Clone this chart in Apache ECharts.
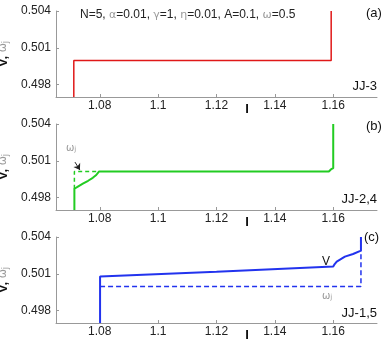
<!DOCTYPE html>
<html>
<head>
<meta charset="utf-8">
<script src="https://cdn.jsdelivr.net/npm/echarts@6/dist/echarts.min.js"></script>
<style>
  html, body { margin: 0; padding: 0; background: #fff; }
  #chart { width: 382px; height: 340px; }
</style>
</head>
<body>
<div id="chart"></div>
<script>
// panel (a) JJ-3
const iJJ3 = [1.0711, 1.0711, 1.1593, 1.1593]
const vJJ3 = [0.497, 0.49997, 0.49997, 0.504]
// panel (b) JJ-2,4
const iJJ24 = [1.0713, 1.0713, 1.0725, 1.0742, 1.076, 1.0776, 1.0788, 1.0797, 1.10, 1.13, 1.1585, 1.1592, 1.1597, 1.16, 1.16]
const vJJ24 = [0.497, 0.49873, 0.4989, 0.49914, 0.49938, 0.49962, 0.49985, 0.50013, 0.50013, 0.50013, 0.50013, 0.5003, 0.5002, 0.5004, 0.504]
const iJJ24w = [1.0713, 1.0713, 1.0797]
const wJJ24 = [0.49873, 0.50013, 0.50013]
// panel (c) JJ-1,5
const iJJ15 = [1.0801, 1.0801, 1.12, 1.16, 1.1605, 1.1612, 1.164, 1.1668, 1.1695, 1.1695]
const vJJ15 = [0.497, 0.50078, 0.50118, 0.50159, 0.5018, 0.502, 0.5024, 0.50262, 0.50289, 0.504]
const iJJ15w = [1.0801, 1.1695, 1.1695]
const wJJ15 = [0.49998, 0.49998, 0.50289]

const xTicks = [1.08, 1.1, 1.12, 1.14, 1.16]
const yTicks = [0.498, 0.501, 0.504]

const zip = (xs, ys) => xs.map((x, i) => [x, ys[i]])

const tops = [11, 124, 237]
const grids = tops.map(t => ({ left: 56, right: 5, top: t, height: 86, outerBoundsMode: 'none', containLabel: false }))

const xAxes = tops.map((t, k) => ({
  type: 'value', gridIndex: k, min: 1.065, max: 1.175,
  axisLine: { lineStyle: { color: '#999' } },
  axisTick: { inside: true, length: 3, lineStyle: { color: '#999' }, customValues: xTicks },
  axisLabel: { color: '#222', fontSize: 12, fontFamily: 'Liberation Sans', margin: 3, customValues: xTicks },
  splitLine: { show: false }
}))
const yAxes = tops.map((t, k) => ({
  type: 'value', gridIndex: k, min: 0.497, max: 0.504,
  name: '{b|V, }{g|ω}{s|j}', nameLocation: 'middle', nameRotate: 90, nameGap: 42,
  nameTextStyle: {
    rich: {
      b: { fontSize: 13, fontWeight: 'bold', color: '#111', fontFamily: 'Liberation Sans' },
      g: { fontSize: 11, color: '#999', fontFamily: 'DejaVu Sans' },
      s: { fontSize: 8, color: '#999', verticalAlign: 'bottom', fontFamily: 'DejaVu Sans' }
    }
  },
  axisLine: { show: true, lineStyle: { color: '#999' } },
  axisTick: { show: true, inside: true, length: 3, lineStyle: { color: '#999' }, customValues: yTicks },
  axisLabel: { color: '#222', fontSize: 12, fontFamily: 'Liberation Sans', margin: 5, customValues: yTicks },
  splitLine: { show: false }
}))

const red = '#e01818', green = '#22cc22', blue = '#2233ee'
const series = [
  { type: 'line', xAxisIndex: 0, yAxisIndex: 0, data: zip(iJJ3, vJJ3), showSymbol: false, lineStyle: { color: red, width: 1.5 } },
  { type: 'line', xAxisIndex: 1, yAxisIndex: 1, data: zip(iJJ24, vJJ24), showSymbol: false, lineStyle: { color: green, width: 2 } },
  {
    type: 'line', xAxisIndex: 1, yAxisIndex: 1, data: zip(iJJ24w, wJJ24), showSymbol: false,
    lineStyle: { color: green, width: 1.5, type: [4, 3] },
    markLine: {
      silent: true, symbol: ['none', 'arrow'], symbolSize: 6,
      lineStyle: { color: '#222', width: 1, type: 'solid' }, label: { show: false },
      data: [[{ coord: [1.0715, 0.5009] }, { coord: [1.0732, 0.50025] }]]
    }
  },
  { type: 'line', xAxisIndex: 2, yAxisIndex: 2, data: zip(iJJ15, vJJ15), showSymbol: false, lineStyle: { color: blue, width: 2 } },
  { type: 'line', xAxisIndex: 2, yAxisIndex: 2, data: zip(iJJ15w, wJJ15), showSymbol: false, lineStyle: { color: blue, width: 1.5, type: [5, 3] } }
]

const txt = (x, y, text, size, extra) => ({
  type: 'text', x: x, y: y,
  style: Object.assign({ text: text, font: size + 'px "Liberation Sans"', fill: '#111', textVerticalAlign: 'middle' }, extra || {})
})
const graphic = [
  txt(366, 13, '(a)', 13), txt(366, 126, '(b)', 13), txt(364, 237, '(c)', 13),
  txt(377, 86, 'JJ-3', 13, { textAlign: 'right' }),
  txt(377, 199, 'JJ-2,4', 13, { textAlign: 'right' }),
  txt(377, 313, 'JJ-1,5', 13, { textAlign: 'right' }),
  txt(247, 109, 'I', 13, { textAlign: 'center', font: 'bold 13px "Liberation Sans"' }),
  txt(247, 222, 'I', 13, { textAlign: 'center', font: 'bold 13px "Liberation Sans"' }),
  txt(247, 335, 'I', 13, { textAlign: 'center', font: 'bold 13px "Liberation Sans"' }),
  txt(322, 262, 'V', 12),
  {
    type: 'text', x: 80, y: 15,
    style: {
      text: 'N=5, {g|α}=0.01, {g|γ}=1, {g|η}=0.01, A=0.1, {g|ω}=0.5',
      font: '12px "Liberation Sans"', fill: '#222', textVerticalAlign: 'middle',
      rich: { g: { fill: '#999', font: '11px "DejaVu Sans"' } }
    }
  },
  {
    type: 'text', x: 66, y: 148,
    style: { text: '{g|ω}{s|j}', textVerticalAlign: 'middle', rich: { g: { fill: '#999', font: '10px "DejaVu Sans"' }, s: { fill: '#999', font: '7px "DejaVu Sans"', verticalAlign: 'bottom' } } }
  },
  {
    type: 'text', x: 322, y: 296,
    style: { text: '{g|ω}{s|j}', textVerticalAlign: 'middle', rich: { g: { fill: '#999', font: '10px "DejaVu Sans"' }, s: { fill: '#999', font: '7px "DejaVu Sans"', verticalAlign: 'bottom' } } }
  }
]

const chart = echarts.init(document.getElementById('chart'), null, { renderer: 'canvas' })
chart.setOption({
  animation: false,
  grid: grids,
  xAxis: xAxes,
  yAxis: yAxes,
  series: series,
  graphic: graphic
})
</script>
</body>
</html>
